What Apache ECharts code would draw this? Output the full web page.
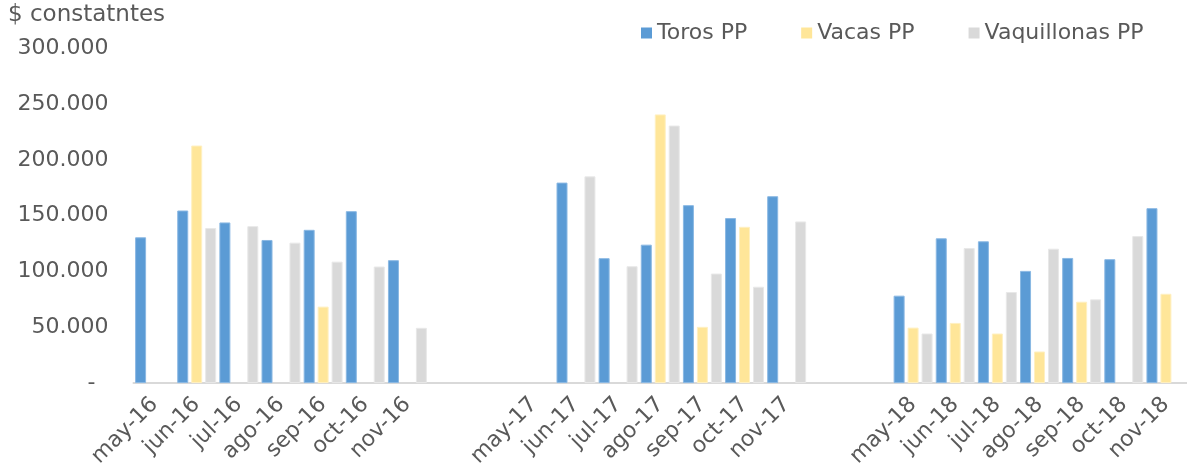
<!DOCTYPE html>
<html lang="es">

<head>
    <meta charset="UTF-8">
    <title>Precios promedio</title>
    <style>
        body { margin: 0; }
    </style>
</head>

<body>
    <div id="main" style="width: 1187px; height: 470px;"></div>

    <script src="https://cdn.jsdelivr.net/npm/echarts@6/dist/echarts.min.js"></script>
    <script>
        // meses (las categorias vacias dejan el hueco entre años)
        var meses = [
            'may-16', 'jun-16', 'jul-16', 'ago-16', 'sep-16', 'oct-16', 'nov-16', '', '',
            'may-17', 'jun-17', 'jul-17', 'ago-17', 'sep-17', 'oct-17', 'nov-17', '', '',
            'may-18', 'jun-18', 'jul-18', 'ago-18', 'sep-18', 'oct-18', 'nov-18'
        ];

        var toros = [
            130600, 154600, 143900, 128200, 137300, 154000, 110100, null, null,
            null, 179600, 111900, 124000, 159400, 147800, 167400, null, null,
            78300, 129700, 127000, 100500, 112100, 111000, 156700
        ];

        var vacas = [
            null, 212800, null, null, 68500, null, null, null, null,
            null, null, null, 240700, 50400, 140000, null, null, null,
            49700, 53900, 44400, 28300, 72900, null, 80000
        ];

        var vaquillonas = [
            null, 138900, 140600, 125800, 108800, 104400, 49500, null, null,
            null, 185200, 104700, 230700, 98100, 86300, 144800, null, null,
            44400, 121000, 81600, 120400, 75000, 131700, null
        ];

        var fuente = 'DejaVu Sans';
        var gris = '#595959';

        window.onload = function () {
            var myChart = echarts.init(document.getElementById('main'));

            function barra(nombre, datos, color, borde) {
                return {
                    name: nombre,
                    type: 'bar',
                    data: datos,
                    barWidth: 11,
                    barGap: '27%',
                    itemStyle: {
                        color: color,
                        borderColor: borde,
                        borderWidth: 1
                    }
                };
            }

            var option = {
                animation: false,
                backgroundColor: '#ffffff',
                title: {
                    text: '$ constatntes',
                    left: 8,
                    top: 4,
                    padding: 0,
                    textStyle: {
                        fontFamily: fuente,
                        fontSize: 23,
                        fontWeight: 'normal',
                        color: gris
                    }
                },
                legend: {
                    left: 641,
                    top: 22,
                    padding: 0,
                    icon: 'rect',
                    itemWidth: 11,
                    itemHeight: 11,
                    itemGap: 54,
                    itemStyle: { borderWidth: 0 },
                    textStyle: {
                        fontFamily: fuente,
                        fontSize: 22,
                        color: gris
                    }
                },
                grid: {
                    left: 133.5,
                    right: 0,
                    top: 48.2,
                    bottom: 85.2
                },
                xAxis: {
                    type: 'category',
                    data: meses,
                    axisLine: { lineStyle: { color: '#d9d9d9', width: 2 } },
                    axisTick: { show: false },
                    axisLabel: {
                        interval: 0,
                        rotate: 45,
                        margin: 18,
                        fontFamily: fuente,
                        fontSize: 22,
                        color: gris
                    }
                },
                yAxis: {
                    type: 'value',
                    min: 0,
                    max: 300000,
                    interval: 50000,
                    splitLine: { show: false },
                    axisLine: { show: false },
                    axisTick: { show: false },
                    axisLabel: {
                        margin: 25,
                        fontFamily: fuente,
                        fontSize: 22,
                        color: gris,
                        formatter: function (v) {
                            if (v === 0) return '{d|-}';
                            return v.toLocaleString('de-DE');
                        },
                        rich: {
                            d: {
                                fontFamily: fuente,
                                fontSize: 22,
                                color: gris,
                                padding: [0, 13, 0, 0]
                            }
                        }
                    }
                },
                series: [
                    barra('Toros PP', toros, '#5b9bd5', '#8ab8e3'),
                    barra('Vacas PP', vacas, '#ffe699', '#fff0c2'),
                    barra('Vaquillonas PP', vaquillonas, '#d9d9d9', '#e8e8e8')
                ]
            };
            myChart.setOption(option);
        }
    </script>
</body>

</html>
